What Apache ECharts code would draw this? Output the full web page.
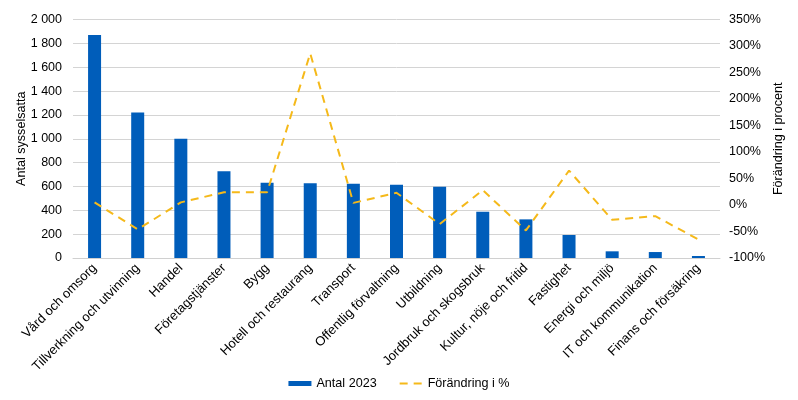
<!DOCTYPE html>
<html><head><meta charset="utf-8">
<script src="https://cdn.jsdelivr.net/npm/echarts@6/dist/echarts.min.js"></script>
<style>html,body{margin:0;padding:0;background:#fff}#c{width:798px;height:400px}</style>
</head><body><div id="c"></div>
<script>
const categories = ["Vård och omsorg","Tillverkning och utvinning","Handel","Företagstjänster","Bygg","Hotell och restaurang","Transport","Offentlig förvaltning","Utbildning","Jordbruk och skogsbruk","Kultur, nöje och fritid","Fastighet","Energi och miljö","IT och kommunikation","Finans och försäkring"];
const antal2023 = [1870,1220,1000,727,632,626,623,615,598,388,324,193,56,50,17];
const forandring = [5,-46,5,24,24,286,4,23,-36,28,-48,65,-28,-21,-65];
</script>
<script>
const chart = echarts.init(document.getElementById('c'), null, {renderer:'canvas'});
const font = '"Liberation Sans", Arial, Helvetica, sans-serif';
chart.setOption({
  animation:false,
  textStyle:{fontFamily:font},
  grid:{left:73,right:78,top:19.5,bottom:142,containLabel:false},
  legend:{
    bottom:5,left:'center',itemGap:22,itemWidth:23,itemHeight:5,
    textStyle:{fontFamily:font,fontSize:12.6,color:'#000'},
    data:[{name:'Antal 2023',icon:'rect'},{name:'Förändring i %',itemStyle:{opacity:0}}]
  },
  xAxis:{
    type:'category',data:categories,
    axisLine:{lineStyle:{color:'#d0d0d0',width:1}},
    axisTick:{show:false},
    axisLabel:{rotate:45,interval:0,fontSize:13,color:'#000',fontFamily:font,margin:8}
  },
  yAxis:[{
    type:'value',min:0,max:2000,interval:200,
    name:'Antal sysselsatta',nameLocation:'middle',nameGap:45,nameMoveOverlap:false,
    nameTextStyle:{fontSize:12.6,color:'#000',fontFamily:font},
    axisLine:{show:false},axisTick:{show:false},
    splitLine:{lineStyle:{color:'#d4d4d4',width:1}},
    axisLabel:{fontSize:12.5,color:'#000',fontFamily:font,margin:11,
      formatter:v=>String(v).replace(/\B(?=(\d{3})+(?!\d))/g,' ')}
  },{
    type:'value',min:-100,max:350,interval:50,position:'right',
    name:'Förändring i procent',nameLocation:'middle',nameGap:52,nameMoveOverlap:false,
    nameTextStyle:{fontSize:12.6,color:'#000',fontFamily:font},
    axisLine:{show:false},axisTick:{show:false},splitLine:{show:false},
    axisLabel:{fontSize:12.5,color:'#000',fontFamily:font,margin:9,formatter:'{value}%'}
  }],
  series:[{
    name:'Antal 2023',type:'bar',data:antal2023,barWidth:13,
    itemStyle:{color:'#005DBA'}
  },{
    name:'Förändring i %',type:'line',yAxisIndex:1,data:forandring,
    symbol:'none',
    lineStyle:{color:'#F5B91A',width:2,type:[8,6]},
    itemStyle:{color:'#F5B91A'}
  }]
});
</script>
</body></html>
